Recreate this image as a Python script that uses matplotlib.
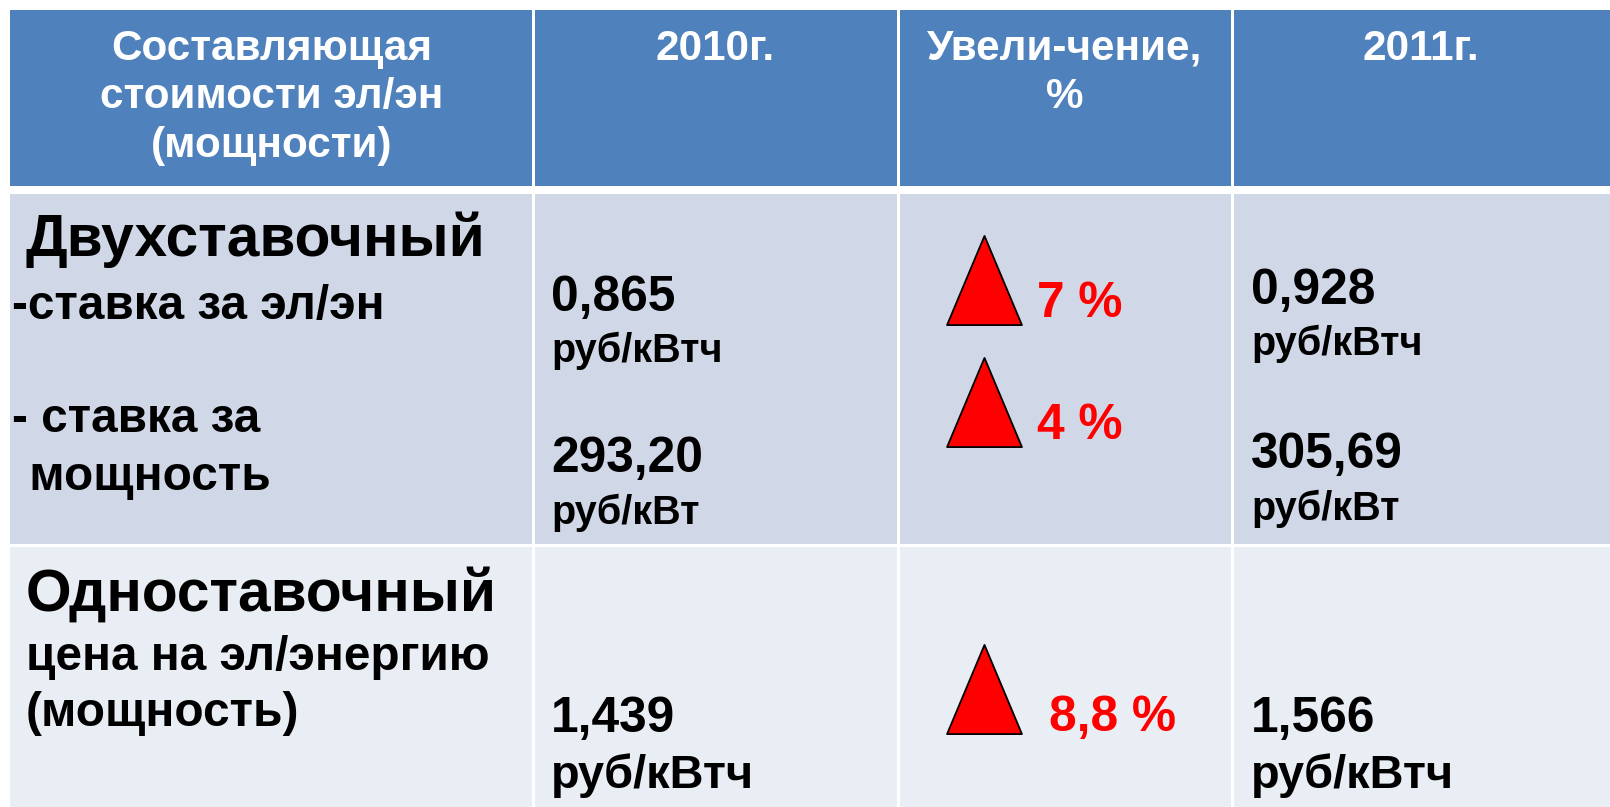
import matplotlib
matplotlib.use("Agg")
import matplotlib.pyplot as plt
from matplotlib.patches import Rectangle
from matplotlib.path import Path

# ---------------- data ----------------
header_col0 = ["Составляющая", "стоимости эл/эн", "(мощности)"]
header_2010 = ["2010г."]
header_incr = ["Увели-чение,", "%"]
header_2011 = ["2011г."]

row1_title = "Двухставочный"
row1_lines = ["-ставка за эл/эн", "- ставка за", " мощность"]
row2_title = "Одноставочный"
row2_lines = ["цена на эл/энергию", "(мощность)"]

values_2010 = ["0,865", "293,20", "1,439"]
values_2011 = ["0,928", "305,69", "1,566"]
units = ["руб/кВтч", "руб/кВт", "руб/кВтч"]
increase = ["7 %", "4 %", "8,8 %"]

# ---------------- layout / style ----------------
W, H = 1610, 807
FONT = ["Liberation Sans", "DejaVu Sans"]
HEAD_C = "#4F81BD"
BAND1 = "#D0D8E8"
BAND2 = "#E9EDF4"
RED = "#FF0000"

col_edges = [10, 533, 898, 1232, W]
head_top, head_bot = 10, 186
row1_top, row1_bot = 194, 544
row2_top = 547

fig = plt.figure(figsize=(W / 100, H / 100), dpi=100)
ax = fig.add_axes([0, 0, 1, 1])
ax.set_xlim(0, W)
ax.set_ylim(H, 0)
ax.axis("off")
renderer = fig.canvas.get_renderer()

# backgrounds
ax.add_patch(Rectangle((col_edges[0], head_top), W - col_edges[0], head_bot - head_top,
                       facecolor=HEAD_C, edgecolor="none", zorder=1))
ax.add_patch(Rectangle((col_edges[0], row1_top), W - col_edges[0], row1_bot - row1_top,
                       facecolor=BAND1, edgecolor="none", zorder=1))
ax.add_patch(Rectangle((col_edges[0], row2_top), W - col_edges[0], H - row2_top,
                       facecolor=BAND2, edgecolor="none", zorder=1))
# vertical white separators
for xe in col_edges[1:-1]:
    ax.add_patch(Rectangle((xe - 1.5, head_top), 3, H - head_top,
                           facecolor="white", edgecolor="none", zorder=2))


def fit(sample, width, base=30.0):
    t = ax.text(0, 0, sample, fontsize=base, fontweight="bold", family=FONT)
    w = t.get_window_extent(renderer).width
    t.remove()
    return base * width / w


fs_head = fit(header_col0[0], 320)
fs_title = fit(row2_title, 470)
fs_sub = fit(row2_lines[0], 463)
fs_num = fit(values_2010[0], 124)
fs_unit1 = fit(units[0], 171)
fs_unit2 = fit(units[2], 203)
fs_pct = fit(increase[2], 127)


def txt(x, y, s, fs, color="black", ha="left"):
    ax.text(x, y, s, fontsize=fs, fontweight="bold", family=FONT, color=color,
            ha=ha, va="baseline", zorder=5)


# header
head_base = [60, 108, 157]
headers = [header_col0, header_2010, header_incr, header_2011]
for i, lines in enumerate(headers):
    cx = (col_edges[i] + col_edges[i + 1]) / 2
    for j, line in enumerate(lines):
        txt(cx, head_base[j], line, fs_head, color="white", ha="center")

# row 1 labels
txt(25, 256, row1_title, fs_title)
for (x, y), line in zip([(12, 319), (12, 432), (16, 490)], row1_lines):
    txt(x, y, line, fs_sub)

# row 2 labels
txt(26, 611, row2_title, fs_title)
for (x, y), line in zip([(26, 670), (26, 726)], row2_lines):
    txt(x, y, line, fs_sub)

# values
num_base_2010 = [311, 472, 731.5]
num_base_2011 = [304.5, 467.5, 731.5]
unit_off = [50.5, 52, 56.5]
unit_fs = [fs_unit1, fs_unit1, fs_unit2]
x2010 = col_edges[1] + 18
x2011 = col_edges[3] + 19
for k in range(3):
    txt(x2010, num_base_2010[k], values_2010[k], fs_num)
    txt(x2010, num_base_2010[k] + unit_off[k], units[k], unit_fs[k])
    txt(x2011, num_base_2011[k], values_2011[k], fs_num)
    txt(x2011, num_base_2011[k] + unit_off[k], units[k], unit_fs[k])

# increase column: triangles + percentages
tri = Path([(0, 1), (0.84, -1), (-0.84, -1), (0, 1)],
           [Path.MOVETO, Path.LINETO, Path.LINETO, Path.CLOSEPOLY])
tri_y = [280, 401.5, 688.5]
pct_pos = [(1037, 317), (1037, 439), (1049, 731)]
for k, p in enumerate(increase):
    ax.plot([984], [tri_y[k]], marker=tri, markersize=91 * 0.72 * 0.98,
            markerfacecolor=RED, markeredgecolor="black", markeredgewidth=1.3,
            linestyle="none", zorder=4)
    txt(pct_pos[k][0], pct_pos[k][1], p, fs_pct, color=RED)

fig.savefig("out.png", dpi=100, facecolor="white")
